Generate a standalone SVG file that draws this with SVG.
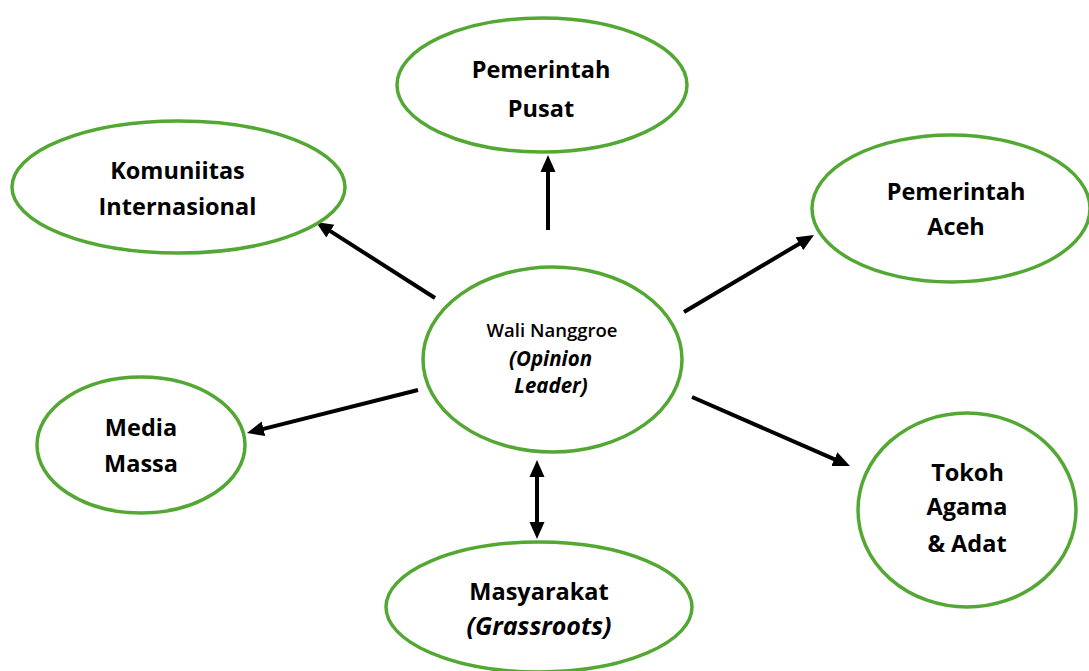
<svg xmlns="http://www.w3.org/2000/svg" width="1089" height="671" viewBox="0 0 1089 671">
<style>
.node ellipse{fill:#fff;stroke:#53a834;stroke-width:3.5}
.t{font-family:"Open Sans","Noto Sans","Liberation Sans",sans-serif;font-weight:700;font-size:23.5px;fill:#000;text-anchor:middle}
.s{font-size:18.5px;font-weight:600}
.si{font-size:20.5px;font-weight:700}
.i{font-style:italic}
.gi{font-size:25px}
.conn line{stroke:#000;stroke-width:4}
</style>
<defs>
<marker id="ah" markerUnits="userSpaceOnUse" viewBox="0 -8 17 16" markerWidth="17" markerHeight="16" refX="1" refY="0" orient="auto-start-reverse">
<path d="M0,-7.5 L17,0 L0,7.5 z" fill="#000"/>
</marker>
</defs>
<rect width="1089" height="671" fill="#fff"/>
<g class="conn">
<line x1="548" y1="230" x2="548" y2="171" marker-end="url(#ah)"/>
<line x1="435" y1="298" x2="329.5" y2="230.6" marker-end="url(#ah)"/>
<line x1="684" y1="312" x2="800.2" y2="243.2" marker-end="url(#ah)"/>
<line x1="418" y1="390" x2="262.5" y2="429.1" marker-end="url(#ah)"/>
<line x1="692" y1="397" x2="835.3" y2="459.6" marker-end="url(#ah)"/>
<line x1="537" y1="476" x2="537" y2="523" marker-start="url(#ah)" marker-end="url(#ah)"/>
</g>
<g id="pemerintah-pusat" class="node">
<ellipse cx="542" cy="85" rx="145" ry="67"/>
<text class="t" x="541" y="78">Pemerintah</text>
<text class="t" x="541" y="117">Pusat</text>
</g>
<g id="komunitas-internasional" class="node">
<ellipse cx="178.5" cy="187" rx="166.5" ry="66"/>
<text class="t" x="177.5" y="179">Komuniitas</text>
<text class="t" x="177.5" y="215">Internasional</text>
</g>
<g id="pemerintah-aceh" class="node">
<ellipse cx="951" cy="208.5" rx="139" ry="73.5"/>
<text class="t" x="956" y="200">Pemerintah</text>
<text class="t" x="956" y="235">Aceh</text>
</g>
<g id="wali-nanggroe" class="node">
<ellipse cx="552.5" cy="359.5" rx="129.5" ry="92.5"/>
<text class="t s" x="552" y="337">Wali Nanggroe</text>
<text class="t si i" x="550.5" y="366">(Opinion</text>
<text class="t si i" x="551" y="393">Leader)</text>
</g>
<g id="media-massa" class="node">
<ellipse cx="141" cy="445" rx="104" ry="68"/>
<text class="t" x="141" y="436">Media</text>
<text class="t" x="141" y="472">Massa</text>
</g>
<g id="tokoh-agama-adat" class="node">
<ellipse cx="967" cy="510" rx="109" ry="97"/>
<text class="t" x="967.5" y="481">Tokoh</text>
<text class="t" x="967" y="515">Agama</text>
<text class="t" x="967" y="552">&amp; Adat</text>
</g>
<g id="masyarakat" class="node">
<ellipse cx="539" cy="607" rx="153" ry="65"/>
<text class="t" x="539" y="600">Masyarakat</text>
<text class="t i gi" x="539" y="635">(Grassroots)</text>
</g>
</svg>
